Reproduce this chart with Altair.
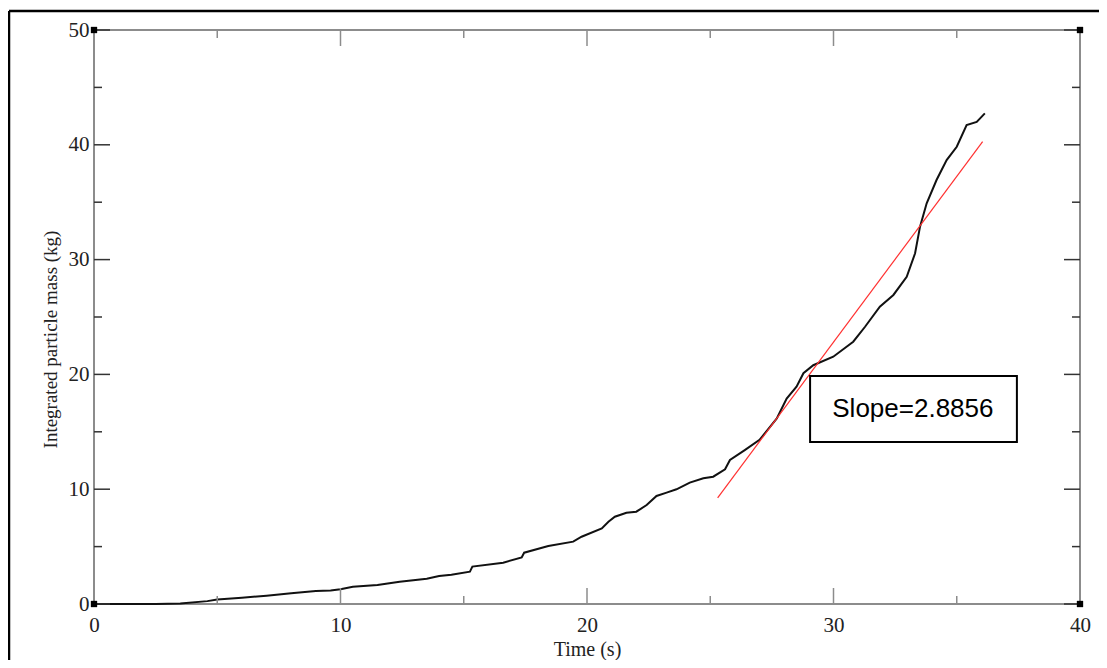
import altair as alt
import pandas as pd

# Integrated particle mass curve
time_s = [0, 2.5, 3.5, 4.6, 5.0, 6.0, 7.0, 8.0, 9.0, 9.6, 10.0, 10.5, 11.5, 12.4, 13.5, 14.0,
          14.5, 15.25, 15.35, 16.6, 17.35, 17.45, 18.43, 19.44, 19.78, 20.6, 20.87, 21.13,
          21.6, 22.0, 22.42, 22.82, 23.23, 23.63, 24.17, 24.72, 25.12, 25.6, 25.8, 26.4,
          27.0, 27.7, 28.1, 28.5, 28.78, 29.18, 29.99, 30.8, 31.28, 31.88, 32.43, 32.97,
          33.31, 33.51, 33.78, 34.18, 34.59, 35.0, 35.4, 35.81, 36.14]
mass_kg = [0, 0, 0.05, 0.25, 0.4, 0.55, 0.72, 0.93, 1.13, 1.18, 1.28, 1.5, 1.65, 1.94, 2.2, 2.44,
           2.55, 2.82, 3.26, 3.6, 4.06, 4.47, 5.05, 5.43, 5.86, 6.59, 7.17, 7.6,
           7.95, 8.04, 8.62, 9.41, 9.7, 9.99, 10.57, 10.95, 11.09, 11.73, 12.54, 13.4,
           14.3, 16.17, 17.9, 18.93, 20.1, 20.8, 21.54, 22.85, 24.15, 25.9, 26.92, 28.5,
           30.55, 32.87, 34.9, 36.93, 38.67, 39.83, 41.72, 42.0, 42.74]

# Fitted line (slope 2.8856)
fit_t = [25.3, 36.05]
fit_m = [9.25, 40.27]

# Annotation box and label
box_t = [29.05]
box_t2 = [37.44]
box_m = [19.86]
box_m2 = [14.11]
label_t = [33.22]
label_m = [16.99]
label_text = ["Slope=2.8856"]

x_major = [0, 10, 20, 30, 40]
x_minor = [5, 15, 25, 35]
y_major = [0, 10, 20, 30, 40, 50]
y_minor = [5, 15, 25, 35, 45]
corner_t = [0, 0, 40, 40]
corner_m = [0, 50, 0, 50]

W, H = 986, 574
SERIF = "Liberation Serif"
AXC = "#8c8c8c"

xs = alt.Scale(domain=[0, 40], nice=False, zero=False)
ys = alt.Scale(domain=[0, 50], nice=False, zero=False)
xaxis = alt.Axis(values=x_major, title="Time (s)", grid=False, ticks=False, domain=False,
                 labelFlush=False, labelOverlap=False,
                 labelFont=SERIF, labelFontSize=21, labelColor="#222", labelPadding=10,
                 titleFont=SERIF, titleFontSize=20, titleFontWeight="normal", titleColor="#222",
                 titlePadding=4)
yaxis = alt.Axis(values=y_major, title="Integrated particle mass (kg)", grid=False, ticks=False,
                 domain=False, labelFlush=False, labelOverlap=False,
                 labelFont=SERIF, labelFontSize=21, labelColor="#222",
                 labelPadding=5, titleFont=SERIF, titleFontSize=19, titleFontWeight="normal",
                 titleColor="#222", titlePadding=8, titleY=H / 2 + 22)

def X(f="t"):
    return alt.X(f + ":Q", scale=xs, axis=xaxis)

def Y(f="m"):
    return alt.Y(f + ":Q", scale=ys, axis=yaxis)

curve_df = pd.DataFrame({"t": time_s, "m": mass_kg})
fit_df = pd.DataFrame({"t": fit_t, "m": fit_m})
box_df = pd.DataFrame({"t": box_t, "t2": box_t2, "m": box_m, "m2": box_m2})
lab_df = pd.DataFrame({"t": label_t, "m": label_m, "txt": label_text})
corner_df = pd.DataFrame({"t": corner_t, "m": corner_m})

curve = alt.Chart(curve_df).mark_line(color="#111", strokeWidth=2).encode(x=X(), y=Y())
fit = alt.Chart(fit_df).mark_line(color="#ff3030", strokeWidth=1.2).encode(x=X(), y=Y())
box = alt.Chart(box_df).mark_rect(fill="white", stroke="black", strokeWidth=2).encode(
    x=X(), x2="t2:Q", y=Y(), y2="m2:Q")
lab = alt.Chart(lab_df).mark_text(font="Liberation Sans", fontSize=26, color="black",
                                  align="center", baseline="middle").encode(
    x=X(), y=Y(), text="txt:N")

def xt(vals, length, color):
    d = pd.DataFrame({"t": vals})
    b = alt.Chart(d).mark_rule(color=color, strokeWidth=1.5).encode(
        x=X(), y=alt.value(H), y2=alt.value(H - length))
    t = alt.Chart(d).mark_rule(color=color, strokeWidth=1.5).encode(
        x=X(), y=alt.value(0), y2=alt.value(length))
    return [b, t]

def yt(vals, length, color):
    d = pd.DataFrame({"m": vals})
    l = alt.Chart(d).mark_rule(color=color, strokeWidth=1.5).encode(
        y=Y(), x=alt.value(0), x2=alt.value(length))
    r = alt.Chart(d).mark_rule(color=color, strokeWidth=1.5).encode(
        y=Y(), x=alt.value(W), x2=alt.value(W - length))
    return [l, r]

ticks = xt(x_major, 16, AXC) + xt(x_minor, 8, AXC) + yt(y_major, 16, "#333") + yt(y_minor, 8, "#333")

# plot border (gray, 2px) drawn through the scales at the domain edges
border_df = pd.DataFrame({"t": [0], "t2": [40], "m": [0], "m2": [50]})
border = alt.Chart(border_df).mark_rect(fill=None, fillOpacity=0, stroke=AXC, strokeWidth=2).encode(
    x=X(), x2="t2:Q", y=Y(), y2="m2:Q")

corners = alt.Chart(corner_df).mark_square(color="black", size=40, opacity=1).encode(x=X(), y=Y())

frame_top = alt.Chart(corner_df.head(1)).mark_rule(color="black", strokeWidth=2.5).encode(
    x=alt.value(-85), x2=alt.value(W + 19), y=alt.value(-19))
frame_left = alt.Chart(corner_df.head(1)).mark_rule(color="black", strokeWidth=2.5).encode(
    x=alt.value(-85), y=alt.value(-19), y2=alt.value(H + 60))

chart = alt.layer(border, curve, fit, *ticks, box, lab, corners, frame_top, frame_left).properties(
    width=W, height=H,
    autosize=alt.AutoSizeParams(type="none"),
    padding={"left": 86, "top": 22, "right": 19, "bottom": 56},
).configure_view(stroke=None).configure(background="white")

chart.save("out.html", embed_options={"renderer": "svg", "actions": False})
